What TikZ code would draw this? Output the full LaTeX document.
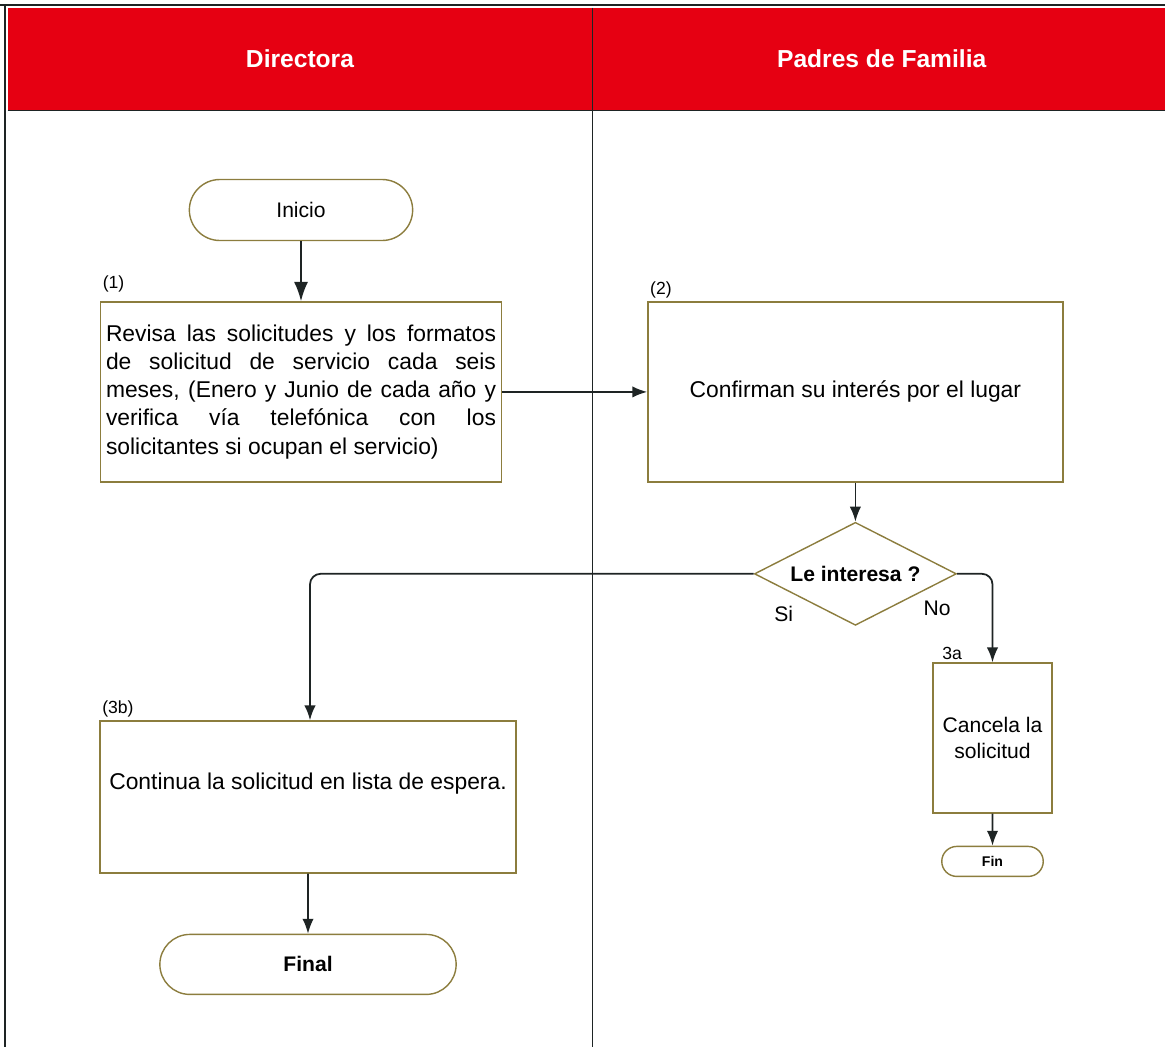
\documentclass[tikz,border=0pt]{standalone}
\usepackage{fontspec}
\setmainfont{Liberation Sans}
\usetikzlibrary{positioning, arrows.meta, shapes.geometric, shapes.misc, calc}
\definecolor{laneRed}{RGB}{230,0,18}
\definecolor{boxLine}{RGB}{140,125,62}
\definecolor{flowLine}{RGB}{30,36,36}
\tikzset{
    lanehead/.style={rectangle, fill=laneRed, text=white, font=\bfseries\fontsize{14}{16}\selectfont},
    task/.style={rectangle, draw=boxLine, line width=0.8pt, fill=white, font=\fontsize{13}{16}\selectfont},
    terminal/.style={rounded rectangle, draw=boxLine, line width=0.8pt, fill=white, font=\fontsize{12}{14}\selectfont},
    decision/.style={diamond, aspect=2, draw=boxLine, line width=0.8pt, fill=white, inner sep=0pt, font=\bfseries\fontsize{12}{14}\selectfont},
    tag/.style={font=\fontsize{10}{12}\selectfont, inner sep=1.5pt},
    flowlabel/.style={font=\fontsize{12}{14}\selectfont, inner sep=0pt},
    flow/.style={-{Latex[length=8.5pt, width=6.5pt]}, draw=flowLine, line width=1pt},
}

\begin{document}
\begin{tikzpicture}
    \useasboundingbox (0,0) rectangle (23.3,-20.92);

    % carriles
    \node[lanehead, minimum width=11.68cm, minimum height=2.04cm] (hdir) at (6.0,-1.18) {Directora};
    \node[lanehead, minimum width=11.56cm, minimum height=2.04cm, right=0pt of hdir] (hpad) {Padres de Familia};

    \draw[flowLine, line width=0.9pt] (0,-0.1) -- (23.4,-0.1);
    \draw[flowLine, line width=1.6pt] (0.1,-0.1) -- (0.1,-21);
    \draw[flowLine, line width=0.6pt] (hdir.south west) -- (hpad.south east);
    \draw[flowLine, line width=0.6pt] (hdir.north east) -- (hdir.north east |- 0,-21);

    % Directora
    \node[terminal, minimum width=4.7cm, minimum height=1.22cm] (inicio) at (6.02,-4.2) {Inicio};
    \node[task, text width=7.8cm, inner sep=0.11cm, minimum height=3.6cm, align=justify,
          below=1.2cm of inicio, label={[tag, anchor=south west, yshift=0.12cm]north west:(1)}] (revisa)
          {Revisa las solicitudes y los formatos\linebreak
           de solicitud de servicio cada seis\linebreak
           meses, (Enero y Junio de cada año y\linebreak
           verifica vía telefónica con los\linebreak
           solicitantes si ocupan el servicio)};

    \node[task, minimum width=8.32cm, minimum height=3.04cm, text depth=0.62cm,
          label={[tag, anchor=south west]north west:(3b)}] (continua) at (6.16,-15.94)
          {Continua la solicitud en lista de espera.};
    \node[terminal, minimum width=6.16cm, minimum height=1.2cm, font=\bfseries\fontsize{12}{14}\selectfont,
          below=1.2cm of continua] (final) {Final};

    % Padres de Familia
    \node[task, minimum width=8.3cm, minimum height=3.6cm, right=2.9cm of revisa,
          label={[tag, anchor=south west]north west:(2)}] (confirma) {Confirman su interés por el lugar};
    \node[decision, minimum width=4.04cm, minimum height=2.06cm, below=0.78cm of confirma] (interes) {Le interesa ?};

    \node[task, minimum width=2.38cm, minimum height=3cm, align=center, font=\fontsize{12}{15}\selectfont,
          label={[tag, anchor=south west, xshift=0.14cm]north west:3a}] (cancela) at (19.85,-14.76)
          {Cancela la\\solicitud};
    \node[terminal, minimum width=2.1cm, minimum height=0.6cm, inner sep=1pt,
          font=\bfseries\fontsize{8}{9}\selectfont, below=0.64cm of cancela] (fin) {Fin};

    \node[flowlabel] (si) at ($(interes.west)+(0.6,-0.8)$) {Si};
    \node[flowlabel] (no) at ($(interes.east)+(-0.4,-0.7)$) {No};

    % flujo
    \draw[flow, -{Latex[length=11pt, width=8pt]}] (inicio) -- (revisa);
    \draw[flow] (revisa.east) -- (revisa.east -| confirma.west);
    \draw[flow] (confirma) -- (interes);
    \draw[flow, rounded corners=6pt] (interes.west) -| ($(continua.north)+(0.04,0)$);
    \draw[flow, rounded corners=6pt] (interes.east) -| (cancela.north);
    \draw[flow] (cancela) -- (fin);
    \draw[flow] (continua) -- (final);
\end{tikzpicture}
\end{document}
